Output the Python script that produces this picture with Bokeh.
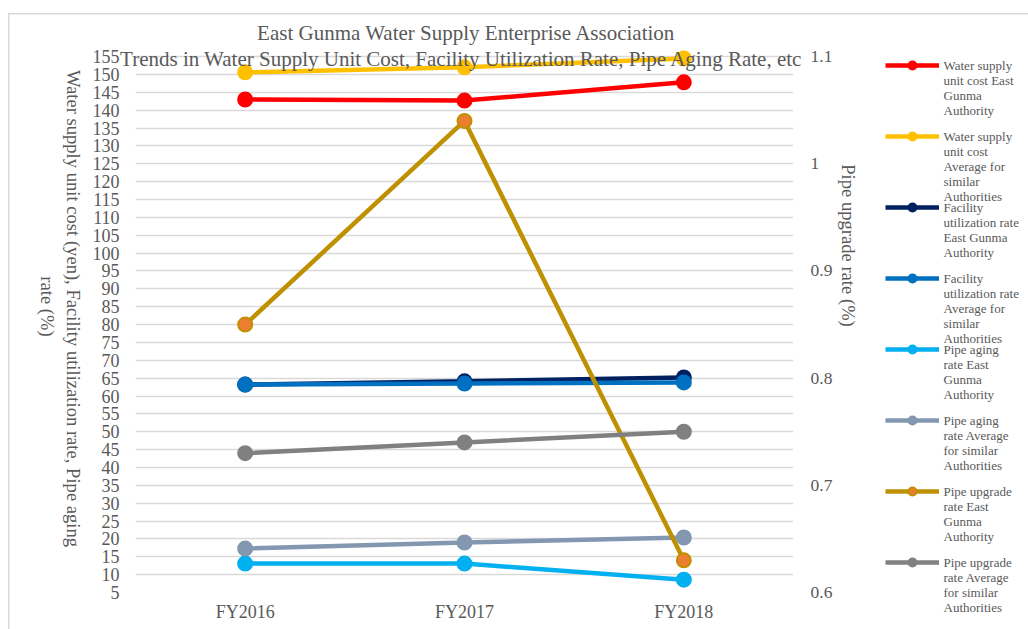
import math
from bokeh.plotting import figure
from bokeh.layouts import row
from bokeh.models import (FactorRange, Range1d, LinearAxis, FixedTicker, Label,
                          Legend, LegendItem, ColumnDataSource)
from bokeh.embed import file_html
from bokeh.resources import INLINE

# ---------------- data ----------------
years = ["FY2016", "FY2017", "FY2018"]
unit_cost_eg = [143.0, 142.7, 147.8]
unit_cost_avg = [150.6, 152.0, 154.5]
util_eg = [63.2, 64.1, 65.2]
util_avg = [63.2, 63.5, 63.8]
aging_eg = [13.1, 13.1, 8.6]
aging_avg = [17.3, 19.0, 20.4]
upgrade_eg = [0.85, 1.04, 0.63]
upgrade_avg = [0.73, 0.74, 0.75]

left_ticks = list(range(5, 160, 5))
right_ticks = [0.6, 0.7, 0.8, 0.9, 1.0, 1.1]
right_tick_labels = ["0.6", "0.7", "0.8", "0.9", "1", "1.1"]

title_lines = ["East Gunma Water Supply Enterprise Association",
               "Trends in Water Supply Unit Cost, Facility Utilization Rate, Pipe Aging Rate, etc"]
left_title_lines = ["Water supply unit cost (yen), Facility utilization rate, Pipe aging",
                    "rate (%)"]
right_title = "Pipe upgrade rate (%)"

legend_labels = [
    ["Water supply", "unit cost East", "Gunma", "Authority"],
    ["Water supply", "unit cost", "Average for", "similar", "Authorities"],
    ["Facility", "utilization rate", "East Gunma", "Authority"],
    ["Facility", "utilization rate", "Average for", "similar", "Authorities"],
    ["Pipe aging", "rate East", "Gunma", "Authority"],
    ["Pipe aging", "rate Average", "for similar", "Authorities"],
    ["Pipe upgrade", "rate East", "Gunma", "Authority"],
    ["Pipe upgrade", "rate Average", "for similar", "Authorities"],
]

# ---------------- layout constants ----------------
W, H = 1028, 629
AW = 835                      # width of the main chart figure
FL, FR, FT, FB = 135, 795, 49, 592
Y0, Y1 = 5, 157
R0 = 0.6
R1 = 0.6 + (Y1 - Y0) / 300.0
KX = (FR - FL) / 3.0
KY = (FB - FT) / (Y1 - Y0)

def dx(px):
    return (px - FL) / KX

def dy(py):
    return Y0 + (FB - py) / KY

FONT = "Liberation Serif"
TXT = "#595959"
GRID = "#D9D9D9"

# ---------------- main chart ----------------
p = figure(x_range=FactorRange(*years), y_range=Range1d(Y0, Y1), width=AW, height=H,
           output_backend="svg", toolbar_location=None,
           min_border_left=FL, min_border_right=AW - FR, min_border_top=FT,
           min_border_bottom=H - FB)
p.frame_align = False
p.title.visible = False
p.outline_line_color = None
p.background_fill_color = "white"
p.border_fill_color = None

p.extra_y_ranges = {"right": Range1d(R0, R1)}

p.yaxis.ticker = FixedTicker(ticks=left_ticks)
for ax in [p.yaxis[0], p.xaxis[0]]:
    ax.axis_line_color = None
    ax.major_tick_line_color = None
    ax.minor_tick_line_color = None
    ax.major_tick_in = 0
    ax.major_tick_out = 0
    ax.minor_tick_in = 0
    ax.minor_tick_out = 0
    ax.major_label_text_font = FONT
    ax.major_label_text_color = TXT
    ax.major_label_text_font_size = "18px"
p.yaxis.major_label_standoff = 16
p.xaxis.major_label_standoff = 9

ax_r = LinearAxis(y_range_name="right", ticker=FixedTicker(ticks=right_ticks),
                  major_label_overrides=dict(zip(right_ticks, right_tick_labels)))
ax_r.axis_line_color = None
ax_r.major_tick_line_color = None
ax_r.minor_tick_line_color = None
ax_r.major_tick_in = 0
ax_r.major_tick_out = 0
ax_r.minor_tick_in = 0
ax_r.minor_tick_out = 0
ax_r.major_label_text_font = FONT
ax_r.major_label_text_color = TXT
ax_r.major_label_text_font_size = "17.5px"
ax_r.major_label_standoff = 17
p.add_layout(ax_r, "right")

p.xgrid.grid_line_color = None
p.ygrid.grid_line_color = GRID
p.ygrid.grid_line_width = 1.3

series = [
    (unit_cost_eg, "#FF0000", "#FF0000", "#FF0000", "default"),
    (unit_cost_avg, "#FFC000", "#FFC000", "#FFC000", "default"),
    (util_eg, "#002060", "#002060", "#002060", "default"),
    (util_avg, "#0070C0", "#0070C0", "#0070C0", "default"),
    (aging_eg, "#00B0F0", "#00B0F0", "#00B0F0", "default"),
    (aging_avg, "#8497B0", "#8497B0", "#8497B0", "default"),
    (upgrade_eg, "#BF9000", "#ED7D31", "#BF9000", "right"),
    (upgrade_avg, "#808080", "#808080", "#808080", "right"),
]

for vals, lc, fc, mc, rng in series:
    p.line(years, vals, line_color=lc, line_width=4.5, y_range_name=rng)
    p.scatter(years, vals, size=14, fill_color=fc, line_color=mc, line_width=2,
              y_range_name=rng)

# left axis title (rotated clockwise), in the left panel
p.add_layout(Label(x=dx(73), y=dy(308), text=left_title_lines[0], text_font=FONT,
                   text_font_size="18.6px", text_color=TXT, text_align="center",
                   text_baseline="middle", angle=-math.pi / 2), "left")
p.add_layout(Label(x=dx(47), y=dy(306), text=left_title_lines[1], text_font=FONT,
                   text_font_size="18.6px", text_color=TXT, text_align="center",
                   text_baseline="middle", angle=-math.pi / 2), "left")

# chart titles, in the top panel
p.add_layout(Label(x=dx(467), y=dy(32), text=title_lines[0], text_font=FONT,
                   text_font_size="21px", text_color=TXT, text_align="center",
                   text_baseline="middle"), "above")
p.add_layout(Label(x=dx(462), y=dy(58), text=title_lines[1], text_font=FONT,
                   text_font_size="21px", text_color=TXT, text_align="center",
                   text_baseline="middle"), "above")

# ---------------- legend strip ----------------
BW = W - AW
q = figure(width=BW, height=H, x_range=Range1d(0, BW), y_range=Range1d(H, 0),
           output_backend="svg", toolbar_location=None,
           x_axis_location=None, y_axis_location=None,
           min_border=0, min_border_left=0, min_border_right=0,
           min_border_top=0, min_border_bottom=0)
q.frame_align = False
q.title.visible = False
q.grid.visible = False
q.outline_line_color = None
q.background_fill_color = None
q.border_fill_color = None

items = []
for vals, lc, fc, mc, rng in series:
    src = ColumnDataSource(data=dict(x=[float("nan")], y=[float("nan")]))
    lr = q.line("x", "y", source=src, line_color=lc, line_width=4.5)
    sr = q.scatter("x", "y", source=src, size=14, fill_color=fc, line_color=mc, line_width=2)
    items.append(LegendItem(label=" ", renderers=[lr, sr]))

LEG_X = 885 - AW
LEG_Y0 = 65
LEG_STEP = 71
GH = 20
legend = Legend(items=items,
                location=(LEG_X, H - (LEG_Y0 - GH // 2) - (8 * GH + 7 * (LEG_STEP - GH))),
                glyph_width=54, glyph_height=GH, label_height=GH, label_width=0,
                spacing=LEG_STEP - GH, padding=0, margin=0, border_line_color=None,
                background_fill_alpha=0, label_standoff=0, label_text_font_size="10px")
q.add_layout(legend, "center")

for i, lines in enumerate(legend_labels):
    for j, t in enumerate(lines):
        q.add_layout(Label(x=943 - AW, y=LEG_Y0 + i * LEG_STEP + j * 15, text=t,
                           text_font=FONT, text_font_size="13px", text_color=TXT,
                           text_baseline="middle", text_align="left"))

q.add_layout(Label(x=848 - AW, y=245, text=right_title, text_font=FONT,
                   text_font_size="18.6px", text_color=TXT, text_align="center",
                   text_baseline="middle", angle=-math.pi / 2))

lay = row(p, q, spacing=0)
lay.styles = {
    "background-color": "white",
    "background-image": "linear-gradient(#D9D9D9, #D9D9D9), linear-gradient(#D9D9D9, #D9D9D9)",
    "background-size": "1.5px 100%, 100% 1.5px",
    "background-position": "8px 13px, 8px 13px",
    "background-repeat": "no-repeat",
}

open("out.html", "w").write(file_html(lay, INLINE))
